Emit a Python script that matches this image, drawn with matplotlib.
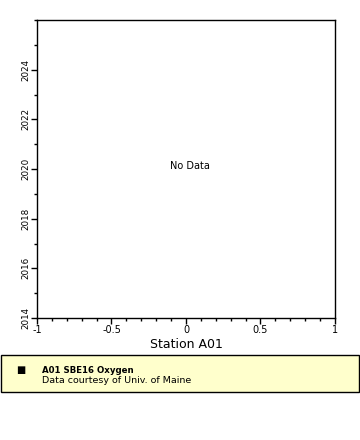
'''
Empty station time series: no data for A01 SBE16 Oxygen.
'''
import matplotlib
matplotlib.use('Agg')
import matplotlib.pyplot as plt
from matplotlib.patches import Rectangle
from matplotlib.ticker import MultipleLocator

station = 'Station A01'
series_name = 'A01 SBE16 Oxygen'
credit = 'Data courtesy of Univ. of Maine'
xlim = (-1.0, 1.0)
ylim = (2014.0, 2026.0)
xticks = [-1, -0.5, 0, 0.5, 1]
xticklabels = ['-1', '-0.5', '0', '0.5', '1']
yticks = [2014, 2016, 2018, 2020, 2022, 2024]

plt.rcParams['font.family'] = 'DejaVu Sans'

fig = plt.figure(figsize=(3.6, 4.4), dpi=100)
ax = fig.add_axes([37/360, 1 - 318/440, 298/360, 298/440])
ax.set_xlim(xlim)
ax.set_ylim(ylim)
ax.set_xticks(xticks)
ax.set_xticklabels(xticklabels)
ax.set_yticks(yticks)
ax.xaxis.set_minor_locator(MultipleLocator(0.1))
ax.yaxis.set_minor_locator(MultipleLocator(1))
ax.tick_params(which='major', direction='out', length=4, width=1, pad=1)
ax.tick_params(axis='x', labelsize=7)
ax.tick_params(axis='y', labelsize=6.3, pad=0.5)
ax.tick_params(which='minor', direction='out', length=2, width=1)
for lab in ax.get_yticklabels():
  lab.set_rotation(90)
  lab.set_va('center')
for sp in ax.spines.values():
  sp.set_linewidth(1)
ax.set_xlabel(station, fontsize=9, labelpad=2)
fig.text(189.5/360, 1 - 165.5/440, 'No Data', ha='center', va='center', fontsize=7)

# legend strip along the bottom
fig.patches.append(Rectangle((0.5/360, 1 - 392/440), 358/360, 37/440, transform=fig.transFigure,
                             facecolor='#ffffcc', edgecolor='black', linewidth=1))
fig.text(21/360, 1 - 370/440, '\u25a0', fontsize=7, ha='center', va='center')
fig.text(42/360, 1 - 370/440, series_name, fontsize=6.2, fontweight='bold', va='center')
fig.text(42/360, 1 - 380/440, credit, fontsize=6.8, va='center')

plt.savefig('out.png', dpi=100)
